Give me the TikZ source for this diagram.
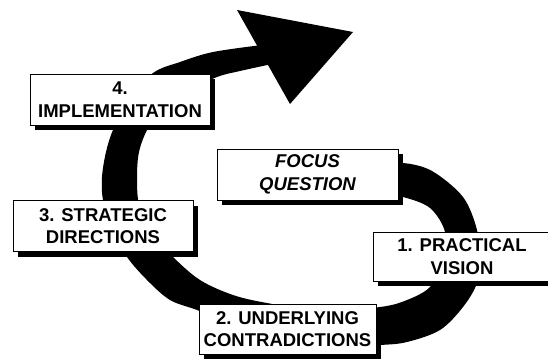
\documentclass[tikz,border=0pt]{standalone}
\usepackage{fontspec}
\setmainfont{Liberation Sans}
\usepackage{tikz}
\usetikzlibrary{shadows}
\tikzset{
  stagebox/.style={
    rectangle, draw=black, line width=0.9pt,
    fill=white,
    inner sep=0pt,
    minimum width=180pt, minimum height=51pt,
    align=center,
    font=\bfseries\fontsize{18.5}{22.5}\selectfont,
    drop shadow={shadow xshift=5pt, shadow yshift=-5pt, fill=black, opacity=1}
  },
  loopband/.style={fill=black}
}

\begin{document}
\begin{tikzpicture}[x=1pt, y=-1pt]
  \useasboundingbox (0,0) rectangle (548,360);
  \clip (0,0) rectangle (548,360);
  % the loop: outer edge first, then back along the inner edge
  \fill[loopband] plot[smooth, tension=0.55] coordinates {(378,166) (403,163) (432,171) (463,197) (477,230) (479,258) (477,283) (463,307) (440,330) (407,342) (380,345) (330,347) (270,340) (225,322) (197,310) (170,300) (147,280) (127,257) (112,230) (103,200) (102,177) (106,152) (113,130) (128,100) (153,73) (180,62) (213,52) (262,45)}
    -- plot[smooth, tension=0.55] coordinates {(272,64) (240,71) (217,77) (185,92) (160,110) (147,130) (139,152) (137,177) (139,205) (150,232) (173,257) (200,280) (233,295) (267,303) (320,311) (380,307) (407,300) (430,287) (443,262) (445,232) (430,208) (403,197) (378,194)} -- cycle;
  \fill[loopband] (237,10) -- (353,32) -- (290,104) -- cycle;
  % stages
  \node[stagebox] (impl) at (120,99.5) {4.\\IMPLEMENTATION};
  \node[stagebox, minimum width=181pt, font=\bfseries\itshape\fontsize{18.5}{22.5}\selectfont] (focus) at (307.5,174.5) {FOCUS\\QUESTION};
  \node[stagebox] (strat) at (103,226) {3. STRATEGIC\\DIRECTIONS};
  \node[stagebox, minimum width=178pt, minimum height=49pt] (vision) at (462,256.5) {1. PRACTICAL\\VISION};
  \node[stagebox, minimum width=177pt, minimum height=50pt] (contra) at (287.5,329) {2. UNDERLYING\\CONTRADICTIONS};
\end{tikzpicture}
\end{document}
